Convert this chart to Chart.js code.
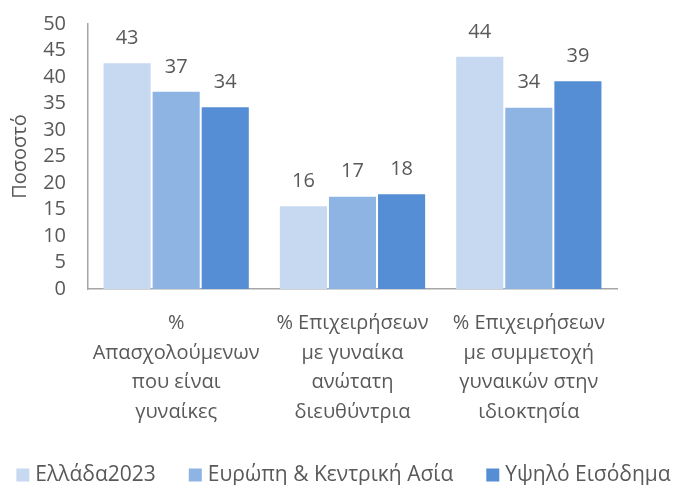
<!DOCTYPE html>
<html>
<head>
<meta charset="utf-8">
<script src="https://cdn.jsdelivr.net/npm/chart.js@4"></script>
<style>
html,body{margin:0;padding:0;background:#fff;}
#wrap{width:677px;height:485px;position:relative;}
</style>
</head>
<body>
<div id="wrap"><canvas id="c"></canvas></div>
<script>
const categories = [
  ["%", "Απασχολούμενων", "που είναι", "γυναίκες"],
  ["% Επιχειρήσεων", "με γυναίκα", "ανώτατη", "διευθύντρια"],
  ["% Επιχειρήσεων", "με συμμετοχή", "γυναικών στην", "ιδιοκτησία"]
];
const seriesNames = ["Ελλάδα2023", "Ευρώπη & Κεντρική Ασία", "Υψηλό Εισόδημα"];
const ellada = [42.6, 15.6, 43.8];
const europe = [37.2, 17.4, 34.2];
const high = [34.3, 17.9, 39.2];
const yTicks = [0, 5, 10, 15, 20, 25, 30, 35, 40, 45, 50];
const colors = ["#C6D9F1", "#8EB4E3", "#558ED5"];

const FONT = "'Open Sans', 'Noto Sans', sans-serif";
const TXT = "#595959";

const labelPlugin = {
  id: 'valueLabels',
  afterDatasetsDraw(chart) {
    const ctx = chart.ctx;
    ctx.save();
    ctx.font = "20px " + FONT;
    ctx.fillStyle = TXT;
    ctx.textAlign = "center";
    ctx.textBaseline = "middle";
    chart.data.datasets.forEach((ds, i) => {
      const meta = chart.getDatasetMeta(i);
      meta.data.forEach((el, j) => {
        ctx.fillText(String(Math.round(ds.data[j])), el.x, el.y - 25);
      });
    });
    ctx.restore();
  }
};

const legendPlugin = {
  id: 'bottomLegend',
  afterDraw(chart) {
    const ctx = chart.ctx;
    ctx.save();
    ctx.font = "21px " + FONT;
    ctx.textBaseline = "middle";
    ctx.textAlign = "left";
    const box = 13, gap = 6, sep = 33;
    const items = chart.data.datasets.map(ds => ({t: ds.label, c: ds.backgroundColor, w: ctx.measureText(ds.label).width}));
    let total = items.reduce((a, it) => a + box + gap + it.w, 0) + sep * (items.length - 1);
    let x = (chart.width - total) / 2 + 5;
    const y = 475;
    items.forEach(it => {
      ctx.fillStyle = it.c;
      ctx.fillRect(x, y - box / 2, box, box);
      ctx.fillStyle = TXT;
      ctx.fillText(it.t, x + box + gap, y);
      x += box + gap + it.w + sep;
    });
    ctx.restore();
  }
};

new Chart(document.getElementById('c'), {
  type: 'bar',
  data: {
    labels: categories,
    datasets: [
      {label: seriesNames[0], data: ellada, backgroundColor: colors[0]},
      {label: seriesNames[1], data: europe, backgroundColor: colors[1]},
      {label: seriesNames[2], data: high, backgroundColor: colors[2]}
    ]
  },
  options: {
    responsive: true,
    maintainAspectRatio: false,
    animation: false,
    devicePixelRatio: 1,
    layout: {padding: {left: 8, right: 60, top: 24, bottom: 45}},
    datasets: {bar: {categoryPercentage: 0.835, barPercentage: 0.96, borderWidth: 0}},
    plugins: {
      legend: {display: false},
      tooltip: {enabled: false}
    },
    scales: {
      y: {
        min: 0, max: 50,
        afterFit: s => { s.width = 80; s.paddingTop = 0; s.paddingBottom = 0; },
        afterBuildTicks: s => { s.ticks = yTicks.map(v => ({value: v})); },
        grid: {display: false, drawTicks: false},
        border: {display: true, color: '#A6A6A6', width: 1.5},
        ticks: {font: {family: FONT, size: 20}, color: TXT, padding: 22, autoSkip: false},
        title: {display: true, text: 'Ποσοστό', font: {family: FONT, size: 20}, color: TXT, padding: {top: 0, bottom: 0}}
      },
      x: {
        afterFit: s => { s.height = 151; s.paddingLeft = 0; s.paddingRight = 0; },
        grid: {display: false, drawTicks: false},
        border: {display: true, color: '#A6A6A6', width: 1.5},
        ticks: {font: {family: FONT, size: 20, lineHeight: 1.47}, color: TXT, padding: 20, maxRotation: 0, autoSkip: false}
      }
    }
  },
  plugins: [labelPlugin, legendPlugin]
});
</script>
</body>
</html>
